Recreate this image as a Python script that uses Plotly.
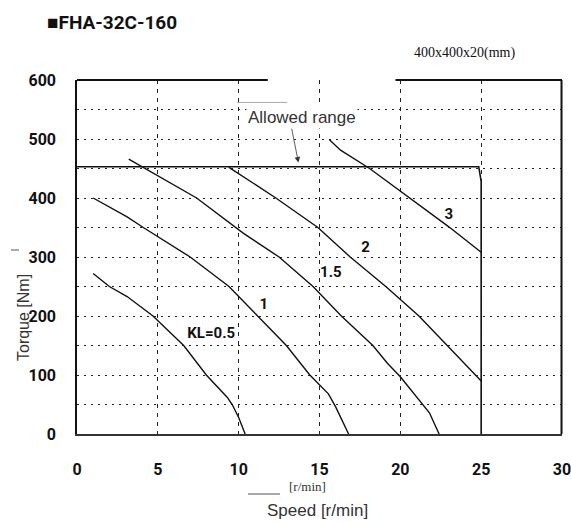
import plotly.graph_objects as go

# --- data (speed r/min, torque Nm) ---
KL05_X = [1.0, 2.0, 3.1, 4.7, 6.6, 8.0, 9.3, 9.6, 10.0, 10.4]
KL05_Y = [272, 250, 233, 200, 150, 100, 62, 50, 28, 0]

KL1_X = [1.0, 3.1, 4.1, 7.0, 9.4, 11.2, 12.95, 14.4, 15.55, 16.0, 16.8]
KL1_Y = [400, 368, 350, 300, 250, 200, 150, 100, 68, 46, 0]

KL15_X = [3.2, 4.2, 7.4, 10.3, 12.5, 14.6, 16.35, 18.3, 19.2, 20.0, 21.4, 21.8, 22.4]
KL15_Y = [466, 450, 400, 340, 300, 250, 200, 150, 120, 97, 50, 36, 0]

KL2_X = [9.4, 10.0, 12.3, 14.9, 16.9, 19.1, 21.15, 22.9, 24.6, 25.0]
KL2_Y = [452, 441, 400, 350, 300, 250, 200, 150, 100, 90]

KL3_X = [15.6, 16.3, 18.1, 19.96, 22.96, 25.0]
KL3_Y = [499, 481, 450, 413, 352, 308]

ALLOWED_X = [0, 24.85, 25.0, 25.0]
ALLOWED_Y = [453, 453, 428, 0]

CURVE_LABELS = ["KL=0.5", "1", "1.5", "2", "3"]
LABEL_X = [8.3, 11.55, 15.7, 17.85, 23.0]
LABEL_Y = [169, 219, 273, 314, 370]

X_TICKS = [0, 5, 10, 15, 20, 25, 30]
Y_TICKS = [0, 100, 200, 300, 400, 500, 600]

BOLD = "Roboto, Liberation Sans, Arial, sans-serif"
SANS = "Liberation Sans, Arial, sans-serif"
SERIF = "Liberation Serif, Times New Roman, serif"

# plot box in pixels (used to place the loose labels)
L, R, T, B = 77, 562, 80, 434
def px(x):
    return (x - L) / (R - L)
def py(y):
    return (B - y) / (B - T)

fig = go.Figure()

curves = [(KL05_X, KL05_Y), (KL1_X, KL1_Y), (KL15_X, KL15_Y), (KL2_X, KL2_Y), (KL3_X, KL3_Y)]
for cx, cy in curves:
    fig.add_trace(go.Scatter(x=cx, y=cy, mode="lines",
                             line=dict(color="#111", width=1.4),
                             showlegend=False, hoverinfo="skip"))

fig.add_trace(go.Scatter(x=ALLOWED_X, y=ALLOWED_Y, mode="lines",
                         line=dict(color="#111", width=1.6),
                         showlegend=False, hoverinfo="skip"))

fig.add_trace(go.Scatter(x=LABEL_X, y=LABEL_Y, mode="text", text=CURVE_LABELS,
                         textfont=dict(family=BOLD, size=15, color="#111", weight="bold"),
                         showlegend=False, hoverinfo="skip"))

annotations = [
    dict(text="■FHA-32C-160", x=px(45), y=py(22), xanchor="left", yanchor="middle",
         font=dict(family=BOLD, size=19, color="#111", weight="bold")),
    dict(text="400x400x20(mm)", x=px(412), y=py(53), xanchor="left", yanchor="middle",
         font=dict(family=SERIF, size=14, color="#111")),
    dict(text="Torque [Nm]", x=px(23), y=py(318), textangle=-90,
         xanchor="center", yanchor="middle",
         font=dict(family=SANS, size=16, color="#333")),
    dict(text="Speed [r/min]", x=px(317), y=py(510), xanchor="center", yanchor="middle",
         font=dict(family=SANS, size=17, color="#333")),
    dict(text="[r/min]", x=px(287), y=py(487), xanchor="left", yanchor="middle",
         font=dict(family=SERIF, size=13, color="#333")),
]
for a in annotations:
    a.update(xref="paper", yref="paper", showarrow=False)

# "Allowed range" with its little arrow
annotations.append(dict(text="Allowed range", x=13.9, y=537, xref="x", yref="y",
                        showarrow=False, bgcolor="white",
                        font=dict(family=SANS, size=17, color="#333")))
annotations.append(dict(text="", x=13.7, y=460, ax=13.26, ay=520, xref="x", yref="y",
                        axref="x", ayref="y", showarrow=True, arrowhead=2,
                        arrowsize=1.4, arrowwidth=0.8, arrowcolor="#333"))

shapes = [
    # top border with the gap behind the label
    dict(type="line", xref="paper", yref="paper", x0=0, x1=11.8 / 30, y0=1, y1=1,
         line=dict(color="#111", width=2)),
    dict(type="line", xref="paper", yref="paper", x0=19.7 / 30, x1=1, y0=1, y1=1,
         line=dict(color="#111", width=2)),
    # right border
    dict(type="line", xref="paper", yref="paper", x0=0.999, x1=0.999, y0=0, y1=1,
         line=dict(color="#111", width=2)),
    # faint stroke above the label
    dict(type="line", xref="x", yref="y", x0=9.9, x1=13.0, y0=562, y1=562,
         line=dict(color="#aaa", width=1)),
    # underline before [r/min]
    dict(type="line", xref="paper", yref="paper", x0=px(248), x1=px(280),
         y0=py(494), y1=py(494), line=dict(color="#555", width=1)),
    # small mark next to the y title
    dict(type="line", xref="paper", yref="paper", x0=px(11), x1=px(19),
         y0=py(250), y1=py(250), line=dict(color="#555", width=1)),
]

fig.update_layout(
    width=571, height=521,
    margin=dict(l=L, r=571 - R, t=T, b=521 - B),
    paper_bgcolor="white", plot_bgcolor="white",
    annotations=annotations,
    shapes=shapes,
    xaxis=dict(range=[0, 30], tickvals=X_TICKS, ticks="",
               showline=True, linecolor="#333", linewidth=2.2,
               showgrid=True, gridcolor="#222", gridwidth=1.3, griddash="4px,5px",
               zeroline=False, ticklabelstandoff=20, ticklabeloverflow="allow",
               automargin=False,
               tickfont=dict(family=BOLD, size=16, color="#111", weight="bold")),
    yaxis=dict(range=[0, 600], tickvals=Y_TICKS, ticks="",
               showline=True, linecolor="#111", linewidth=1.6,
               showgrid=True, gridcolor="#222", gridwidth=1.3, griddash="2px,5px",
               minor=dict(tickvals=[50, 150, 250, 350, 450, 550], showgrid=True,
                          gridcolor="#222", gridwidth=1.3, griddash="2px,5px"),
               zeroline=False, ticklabelstandoff=16, automargin=False,
               tickfont=dict(family=BOLD, size=16, color="#111", weight="bold")),
)

# page body has an 8px default margin and may scroll; pin the figure to the corner
fig.write_html("out.html", config={"displayModeBar": False},
               post_script="document.body.style.margin='0';"
                           "document.body.style.overflow='hidden';"
                           "document.documentElement.style.overflow='hidden';")
